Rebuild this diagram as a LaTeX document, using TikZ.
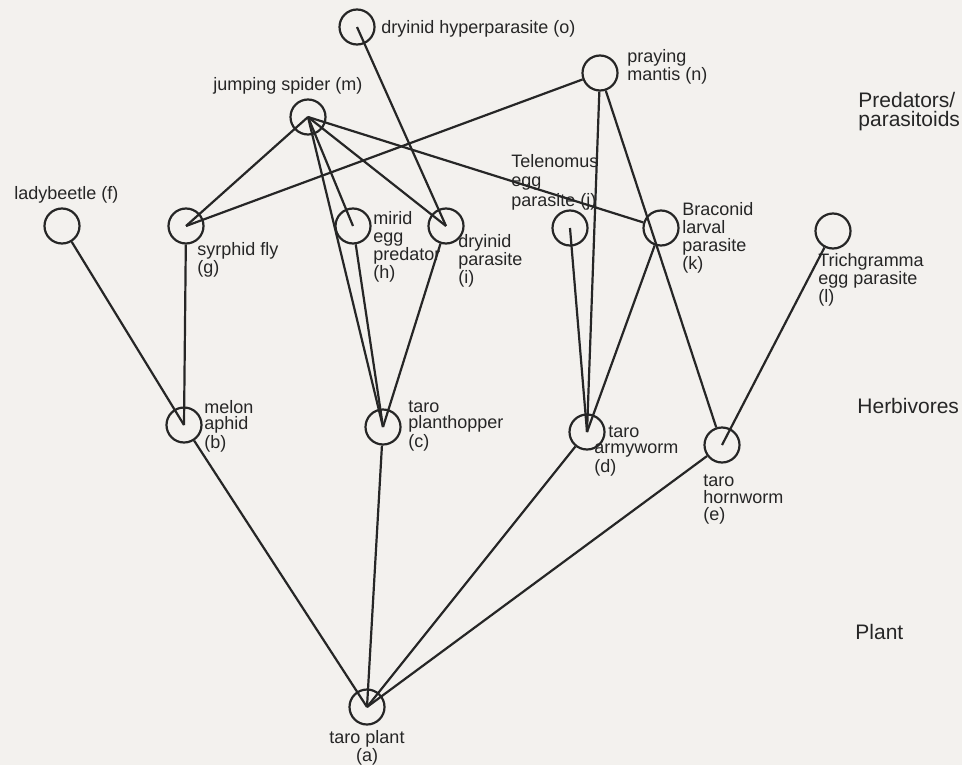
\documentclass[tikz,border=0pt]{standalone}
\usepackage{fontspec}
\setmainfont{Liberation Sans}
\definecolor{ink}{HTML}{262626}
\definecolor{paper}{HTML}{F3F1EE}

\begin{document}
\begin{tikzpicture}[x=0.5pt, y=-0.5pt,
      sp/.style = {circle, draw=ink, line width=1.1pt,
        minimum size=17.5pt, inner sep=0pt},
      lab/.style = {anchor=west, align=left, inner sep=0pt, text=ink,
        font=\fontsize{9}{9}\selectfont},
      grp/.style = {anchor=west, align=left, inner sep=0pt, text=ink,
        font=\fontsize{10.5}{9.5}\selectfont},
      link/.style = {draw=ink, line width=1.1pt}]
  \fill[paper] (0,0) rectangle (962,765);
  \useasboundingbox (0,0) rectangle (962,765);
  % species
  \foreach \n/\x/\y in {o/357/27, n/600/73, m/308/117,
      f/62/226, g/186/226, h/353/226, i/446/226, j/570/228, k/661/228, l/833/231,
      b/184/425, c/383/427, d/587/432, e/722/445, a/367/707}
    \node[sp] (\n) at (\x,\y) {};
  % labels
  \node[lab] (o-lab) at (381,29) {dryinid hyperparasite (o)};
  \node[lab] (n-lab) at (627,67) {praying\\mantis (n)};
  \node[lab] (m-lab) at (213,86) {jumping spider (m)};
  \node[lab] (f-lab) at (14,195) {ladybeetle (f)};
  \node[lab] (g-lab) at (197,260) {syrphid fly\\(g)};
  \node[lab] (h-lab) at (373,247) {mirid\\egg\\predator\\(h)};
  \node[lab] (i-lab) at (458,261) {dryinid\\parasite\\(i)};
  \node[lab, font=\fontsize{9}{9.8}\selectfont] (j-lab) at (511,182) {Telenomus\\egg\\parasite (j)};
  \node[lab] (k-lab) at (682,238) {Braconid\\larval\\parasite\\(k)};
  \node[lab] (l-lab) at (818,280) {Trichgramma\\egg parasite\\(l)};
  \node[lab, font=\fontsize{9}{8.2}\selectfont] (b-lab) at (204,426) {melon\\aphid\\(b)};
  \node[lab, font=\fontsize{9}{8.2}\selectfont] (c-lab) at (408,426) {taro\\planthopper\\(c)};
  \node[lab, font=\fontsize{9}{8.2}\selectfont] (d-lab) at (594,451) {\hspace*{7pt}taro\\armyworm\\(d)};
  \node[lab, font=\fontsize{9}{8.5}\selectfont] (e-lab) at (703,500) {taro\\hornworm\\(e)};
  \node[lab, anchor=center, align=center] (a-lab) at (367,748) {taro plant\\(a)};
  % trophic levels
  \node[grp] (top) at (858,112) {Predators/\\parasitoids};
  \node[grp] (mid) at (857,406) {Herbivores};
  \node[grp] (low) at (855,632) {Plant};
  % feeding links
  \foreach \s/\t in {o.center/i.center, m.center/g.center, m.center/h.center,
      m.center/c.center, m.center/i.center, m.center/k, n/g.center, n/d.center,
      n/e, f/b.center, g/b.center, h/c.center, i/c.center, j.center/d.center,
      k/d.center, l/e.center, b/a.center, c/a.center, d/a.center, e/a.center}
    \draw[link] (\s) -- (\t);
\end{tikzpicture}
\end{document}
